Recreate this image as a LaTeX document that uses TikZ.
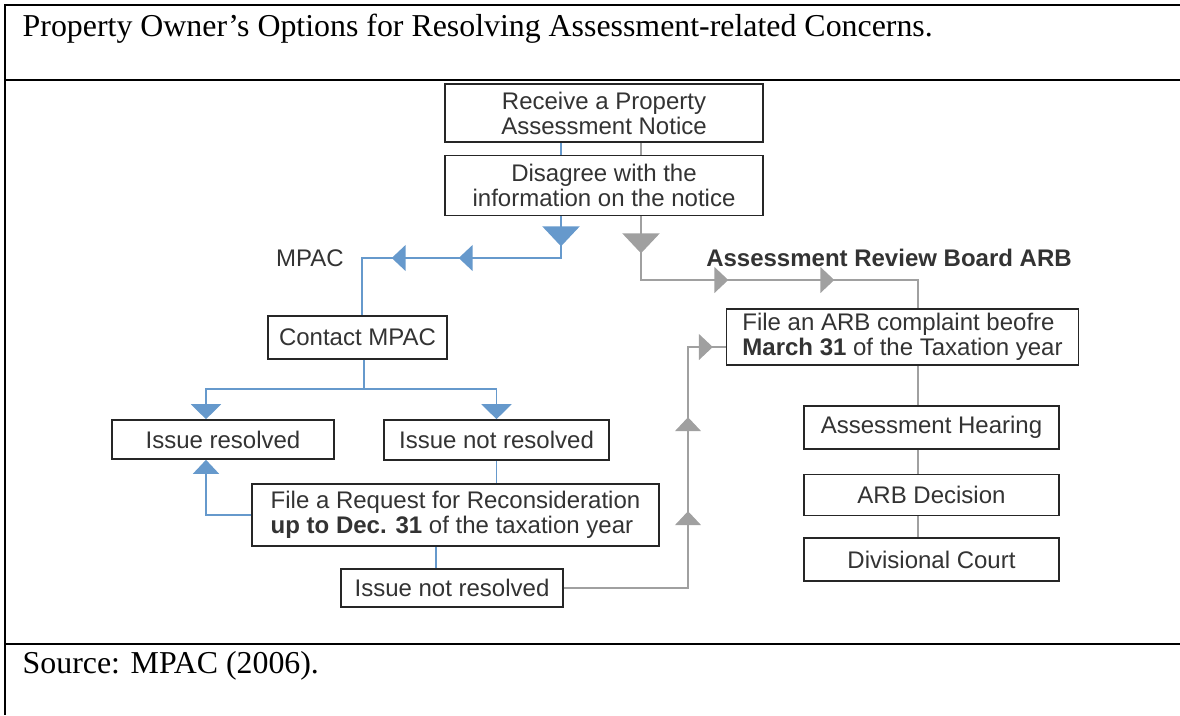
\documentclass[tikz,border=0pt]{standalone}
\usepackage{fontspec}
\setmainfont{Liberation Serif}
\newfontfamily\flowfont{Liberation Sans}
\usetikzlibrary{arrows.meta,decorations.markings}
\definecolor{mpacblue}{RGB}{102,153,204}
\definecolor{arbgray}{RGB}{160,160,160}
\definecolor{boxtext}{RGB}{51,51,51}
\tikzset{
  box/.style={draw=black!85,line width=1.2pt,fill=white,text=boxtext,inner sep=0pt,align=center,
    font=\flowfont\fontsize{18}{18.75}\selectfont},
  lbl/.style={text=boxtext,font=\flowfont\fontsize{18}{18}\selectfont},
  bline/.style={color=mpacblue,line width=1.1pt},
  gline/.style={color=arbgray,line width=1.1pt},
  tabline/.style={line width=2pt},
  marks/.style={postaction={decorate},decoration={markings,#1}},
  bigtri/.tip={Triangle[width=28pt,length=15pt]},
  midtri/.tip={Triangle[width=22.5pt,length=11.25pt]},
  smalltri/.tip={Triangle[width=19.5pt,length=10.5pt]}
}
\begin{document}
\begin{tikzpicture}[x=0.75pt,y=-0.75pt]
\useasboundingbox (0,0) rectangle (1180,715);
% table frame
\draw[tabline] (1180,5) -- (5,5) -- (5,715);
\draw[tabline] (5,80) -- (1180,80);
\draw[tabline] (5,644) -- (1180,644);
\node[anchor=base west,font=\fontsize{23.9}{28}\selectfont] (title) at (18,36) {Property Owner’s Options for Resolving Assessment-related Concerns.};
\node[anchor=base west,font=\fontsize{23.9}{28}\selectfont] (source) at (18,673) {Source: MPAC (2006).};

% boxes
\node[box,minimum width=238.5pt,minimum height=43.5pt] (recv) at (604,113) {Receive a Property\\Assessment Notice};
\node[box,minimum width=238.5pt,minimum height=45pt] (disag) at (604,185.5) {Disagree with the\\information on the notice};
\node[box,minimum width=134.25pt,minimum height=32.25pt] (contact) at (357.5,337.5) {Contact MPAC};
\node[box,minimum width=166.5pt,minimum height=29.25pt] (res) at (223,439.5) {Issue resolved};
\node[box,minimum width=168.75pt,minimum height=30pt] (notres) at (496.5,440) {Issue not resolved};
\node[box,align=left,minimum width=305.25pt,minimum height=46.5pt] (request) at (455.5,515) {File a Request for Reconsideration\\\textbf{up to Dec. 31} of the taxation year};
\node[box,minimum width=166.5pt,minimum height=28.5pt] (notres2) at (452,588) {Issue not resolved};
\node[box,align=left,minimum width=264pt,minimum height=42pt] (arb) at (902.5,337) {File an ARB complaint beofre\\\textbf{March 31} of the Taxation year};
\node[box,minimum width=191.25pt,minimum height=32.25pt] (hear) at (931.5,427.5) {Assessment Hearing};
\node[box,minimum width=191.25pt,minimum height=30.75pt] (dec) at (931.5,495) {ARB Decision};
\node[box,minimum width=191.25pt,minimum height=32.25pt] (court) at (931.5,559.5) {Divisional Court};

% labels
\node[lbl] (mpaclbl) at (310,258) {MPAC};
\node[lbl,font=\flowfont\bfseries\fontsize{18}{18}\selectfont] (arblbl) at (889,258) {Assessment Review Board ARB};

% turning points
\coordinate (bx) at (561,0);
\coordinate (gx) at (641,0);
\coordinate (mpc) at (362,258);
\coordinate (ax) at (918,280);
\coordinate (lx) at (206,0);
\coordinate (ux) at (688,0);
\coordinate (arbin) at ([yshift=-7.5pt]arb.west);

% MPAC side
\draw[bline] (recv.south -| bx) -- (disag.north -| bx);
\draw[bline,marks={mark=at position 22.5pt with {\arrow{bigtri}},
    mark=at position 108pt with {\arrow{smalltri}},
    mark=at position 158.25pt with {\arrow{smalltri}}}]
  (disag.south -| bx) |- (mpc) -- (contact.north -| mpc);
\draw[bline] ([xshift=5pt]contact.south) -- ++(0,29) coordinate (fork);
\draw[bline,-midtri] (fork) -| (res.north -| lx);
\draw[bline,-midtri] (fork) -| (notres.north);
\draw[bline] (notres.south) -- (notres.south |- request.north);
\draw[bline,-smalltri] (request.west) -| (res.south -| lx);
\draw[bline] ([xshift=-12pt]notres2.north) -- ([xshift=-12pt]notres2.north |- request.south);

% ARB side
\draw[gline] (recv.south -| gx) -- (disag.north -| gx);
\draw[gline,marks={mark=at position 27.75pt with {\arrow{bigtri}},
    mark=at position 113.25pt with {\arrow{smalltri}},
    mark=at position 192.75pt with {\arrow{smalltri}}}]
  (disag.south -| gx) |- (ax) -- (arb.north -| ax);
\draw[gline,marks={mark=at position 150.75pt with {\arrow{smalltri}},
    mark=at position 221.25pt with {\arrow{smalltri}},
    mark=at position 292.5pt with {\arrow{smalltri}}}]
  (notres2.east) -| (ux |- arbin) -- (arbin);
\draw[gline] (arb.south -| ax) -- (hear.north -| ax);
\draw[gline] (hear.south -| ax) -- (dec.north -| ax);
\draw[gline] (dec.south -| ax) -- (court.north -| ax);
\end{tikzpicture}
\end{document}
